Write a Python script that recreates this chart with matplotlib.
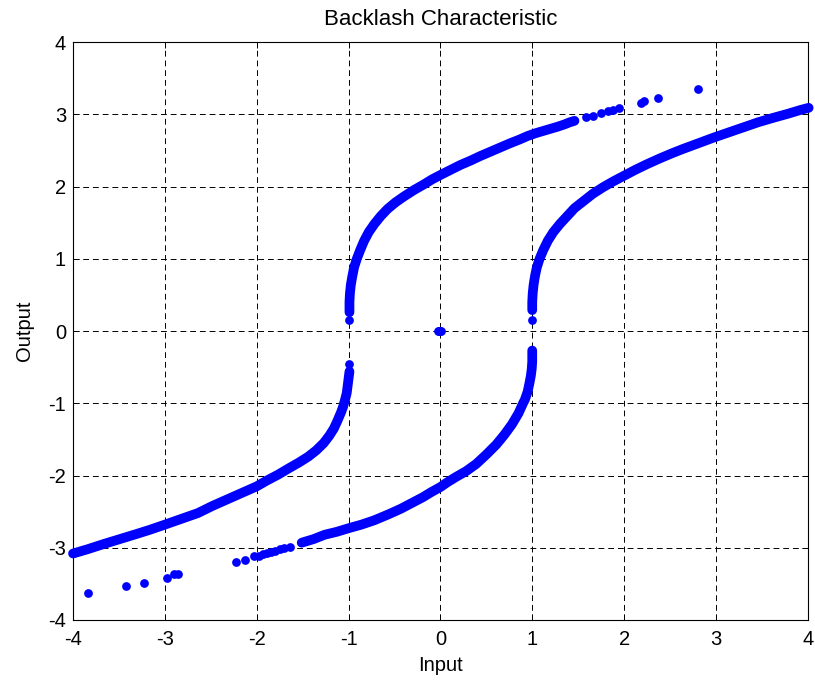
import numpy as np
import matplotlib
matplotlib.use('Agg')
import matplotlib.pyplot as plt

plt.rcParams['font.family'] = ['Liberation Sans', 'DejaVu Sans']
plt.rcParams['axes.unicode_minus'] = False

# upper-left branch (dense part)
a_x = [-0.99, -0.99, -0.985, -0.975, -0.96, -0.94, -0.91, -0.87, -0.83, -0.78,
       -0.72, -0.65, -0.575, -0.49, -0.40, -0.29, -0.18, -0.09, 0.0, 0.11,
       0.22, 0.33, 0.43, 0.54, 0.65, 0.76, 0.86, 0.95, 1.04, 1.12,
       1.2, 1.28, 1.35, 1.41, 1.46]
a_y = [0.26, 0.40, 0.52, 0.64, 0.75, 0.88, 1.0, 1.13, 1.25, 1.37,
       1.48, 1.59, 1.69, 1.78, 1.86, 1.95, 2.03, 2.10, 2.16, 2.23,
       2.30, 2.36, 2.42, 2.48, 2.54, 2.60, 2.65, 2.70, 2.74, 2.77,
       2.80, 2.83, 2.86, 2.89, 2.91]
# upper-left branch, scattered points
a_sx = [-0.99, 1.59, 1.66, 1.75, 1.82, 1.88, 1.94, 2.18, 2.22, 2.37, 2.81]
a_sy = [0.15, 2.96, 2.98, 3.02, 3.05, 3.06, 3.09, 3.16, 3.19, 3.23, 3.35]

# upper-right branch
b_x = [1.0, 1.0, 1.005, 1.015, 1.03, 1.05, 1.08, 1.12, 1.17, 1.23,
       1.30, 1.38, 1.46, 1.56, 1.66, 1.77, 1.88, 2.0, 2.12, 2.25,
       2.39, 2.52, 2.64, 2.81, 2.98, 3.14, 3.30, 3.46, 3.62, 3.79,
       3.92, 4.01]
b_y = [0.29, 0.40, 0.52, 0.64, 0.76, 0.88, 1.0, 1.12, 1.25, 1.37,
       1.48, 1.59, 1.70, 1.80, 1.90, 1.99, 2.07, 2.15, 2.23, 2.31,
       2.39, 2.46, 2.52, 2.60, 2.68, 2.75, 2.82, 2.89, 2.95, 3.01,
       3.06, 3.09]
b_sx = [1.0]
b_sy = [0.15]

# lower-left branch
c_x = [-0.99, -1.0, -1.01, -1.02, -1.04, -1.06, -1.08, -1.12, -1.16, -1.21,
       -1.27, -1.35, -1.44, -1.54, -1.65, -1.77, -1.89, -2.0, -2.16, -2.32,
       -2.48, -2.64, -2.82, -3.0, -3.16, -3.31, -3.49, -3.67, -3.84, -4.0]
c_y = [-0.56, -0.66, -0.76, -0.86, -0.96, -1.05, -1.12, -1.24, -1.35, -1.45,
       -1.55, -1.65, -1.74, -1.82, -1.90, -1.99, -2.07, -2.15, -2.24, -2.33,
       -2.42, -2.52, -2.60, -2.68, -2.75, -2.81, -2.88, -2.95, -3.02, -3.08]
c_sx = [-0.99]
c_sy = [-0.45]

# lower-right branch
d_x = [1.0, 1.0, 0.995, 0.985, 0.97, 0.95, 0.92, 0.90, 0.85, 0.78,
       0.70, 0.61, 0.50, 0.39, 0.28, 0.17, 0.08, 0.0, -0.10, -0.19,
       -0.31, -0.43, -0.57, -0.72, -0.86, -1.0, -1.13, -1.26, -1.38, -1.51]
d_y = [-0.27, -0.42, -0.52, -0.62, -0.72, -0.84, -0.95, -1.0, -1.14, -1.29,
       -1.43, -1.57, -1.71, -1.84, -1.94, -2.02, -2.09, -2.16, -2.23, -2.30,
       -2.38, -2.46, -2.54, -2.62, -2.68, -2.73, -2.78, -2.82, -2.88, -2.93]
d_sx = [-1.64, -1.70, -1.75, -1.80, -1.84, -1.89, -1.93, -1.98, -2.03,
        -2.13, -2.23, -2.86, -2.90, -2.98, -3.23, -3.42, -3.84]
d_sy = [-2.99, -3.01, -3.02, -3.04, -3.06, -3.07, -3.09, -3.11, -3.12,
        -3.17, -3.20, -3.37, -3.37, -3.42, -3.485, -3.535, -3.63]

# points sitting at the origin
o_x = [-0.03, -0.015, 0.0, 0.01]
o_y = [0.0, 0.0, 0.0, 0.0]

blue = '#0000ff'

fig = plt.figure(figsize=(8.15, 6.81), dpi=100)
ax = fig.add_axes([0.0896, 0.0896, 0.9015, 0.8486])

for x, y in [(a_x, a_y), (b_x, b_y), (c_x, c_y), (d_x, d_y)]:
    ax.plot(x, y, '-', color=blue, lw=7, solid_capstyle='round',
            solid_joinstyle='round', clip_on=False, zorder=3)
for x, y in [(a_sx, a_sy), (b_sx, b_sy), (c_sx, c_sy), (d_sx, d_sy), (o_x, o_y)]:
    ax.plot(x, y, 'o', color=blue, ms=6.3, mew=0, clip_on=False, zorder=3)

ax.set_xlim(-4, 4)
ax.set_ylim(-4, 4)
ax.set_xticks(np.arange(-4, 5, 1))
ax.set_yticks(np.arange(-4, 5, 1))
ax.grid(True, color='k', lw=0.7, linestyle=(0, (6, 4)))
ax.set_axisbelow(True)
ax.tick_params(direction='in', length=4, top=True, right=True,
               labelsize=14.5, width=0.7)
ax.tick_params(axis='x', pad=7)
ax.tick_params(axis='y', pad=5)
for s in ax.spines.values():
    s.set_linewidth(0.8)

ax.set_title('Backlash Characteristic', fontsize=16, pad=12)
ax.set_xlabel('Input', fontsize=14.5, labelpad=5)
ax.set_ylabel('Output', fontsize=14.5, labelpad=10)

fig.savefig('out.png', dpi=100)
